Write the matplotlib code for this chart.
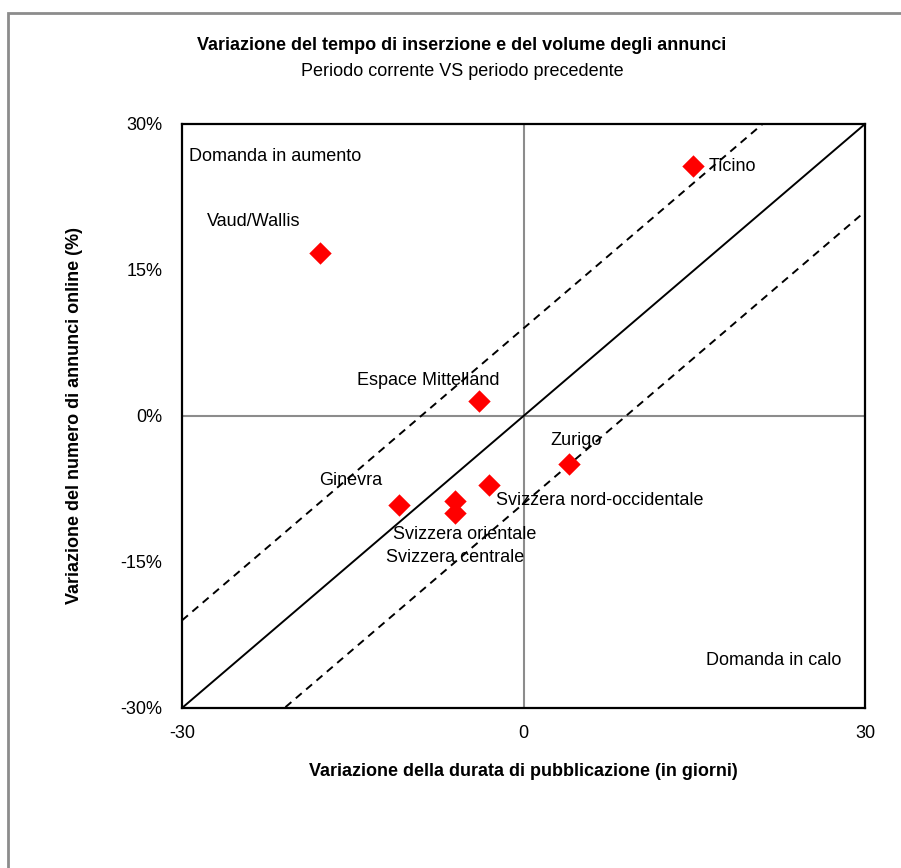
import matplotlib
matplotlib.use("Agg")
import matplotlib.pyplot as plt
from matplotlib.patches import Rectangle
from matplotlib.ticker import FuncFormatter

plt.rcParams["font.family"] = ["Liberation Sans Narrow", "Liberation Sans", "DejaVu Sans"]
plt.rcParams["axes.unicode_minus"] = False

# dati
regioni = ["Ticino", "Vaud/Wallis", "Espace Mittelland", "Zurigo", "Ginevra",
           "Svizzera nord-occidentale", "Svizzera orientale", "Svizzera centrale"]
durata = [14.9, -17.9, -3.9, 4.0, -10.9, -3.0, -6.0, -6.0]
annunci = [25.7, 16.7, 1.5, -4.9, -9.1, -7.1, -8.7, -10.0]
banda = 9
limiti = [-30, 30]

# posizione etichette (pixel rispetto al punto)
offset = {"Ticino": (16, -1), "Vaud/Wallis": (-113, 32),
          "Espace Mittelland": (-122, 21), "Zurigo": (-19, 23),
          "Ginevra": (-80, 24), "Svizzera nord-occidentale": (7, -15),
          "Svizzera orientale": (-62, -34), "Svizzera centrale": (-69, -44)}

fig = plt.figure(figsize=(9.01, 8.68), dpi=100)
ax = fig.add_axes([182 / 901, 1 - 708 / 868, 683 / 901, 584 / 868])

# cornice esterna
fig.patches.append(Rectangle((8 / 901, -0.1), 1.2, 1 - 13 / 868 + 0.1,
                             transform=fig.transFigure, fill=False,
                             edgecolor="#8c8c8c", linewidth=2))

ax.axhline(0, color="#8c8c8c", linewidth=1.5, zorder=1)
ax.axvline(0, color="#8c8c8c", linewidth=1.5, zorder=1)

ax.plot(limiti, limiti, color="black", linewidth=1.4, zorder=2)
ax.plot(limiti, [v + banda for v in limiti], color="black", linewidth=1.4,
        linestyle=(0, (4, 3)), zorder=2)
ax.plot(limiti, [v - banda for v in limiti], color="black", linewidth=1.4,
        linestyle=(0, (4, 3)), zorder=2)

ax.scatter(durata, annunci, marker="D", s=130, color="#ff0000", linewidths=0, zorder=3)

for nome, x, y in zip(regioni, durata, annunci):
    ax.annotate(nome, (x, y), xytext=offset[nome], textcoords="offset pixels",
                ha="left", va="center", fontsize=13, zorder=4)

ax.text(0.01, 0.945, "Domanda in aumento", transform=ax.transAxes,
        ha="left", va="center", fontsize=13)
ax.text(0.966, 0.082, "Domanda in calo", transform=ax.transAxes,
        ha="right", va="center", fontsize=13)

ax.set_xlim(limiti)
ax.set_ylim(limiti)
ax.set_xticks([-30, 0, 30])
ax.set_yticks([-30, -15, 0, 15, 30])
ax.yaxis.set_major_formatter(FuncFormatter(lambda v, p: "%d%%" % v))
ax.tick_params(length=0, labelsize=13)
ax.tick_params(axis="y", pad=14)
ax.tick_params(axis="x", pad=12)
for s in ax.spines.values():
    s.set_linewidth(1.6)

ax.set_xlabel("Variazione della durata di pubblicazione (in giorni)",
              fontsize=13, fontweight="bold", labelpad=15)
ax.set_ylabel("Variazione del numero di annunci online (%)",
              fontsize=13, fontweight="bold", labelpad=27)

fig.text(462 / 901, 1 - 45 / 868, "Variazione del tempo di inserzione e del volume degli annunci",
         ha="center", va="center", fontsize=13, fontweight="bold")
fig.text(462 / 901, 1 - 71 / 868, "Periodo corrente VS periodo precedente",
         ha="center", va="center", fontsize=13)

fig.savefig("out.png", dpi=100)
